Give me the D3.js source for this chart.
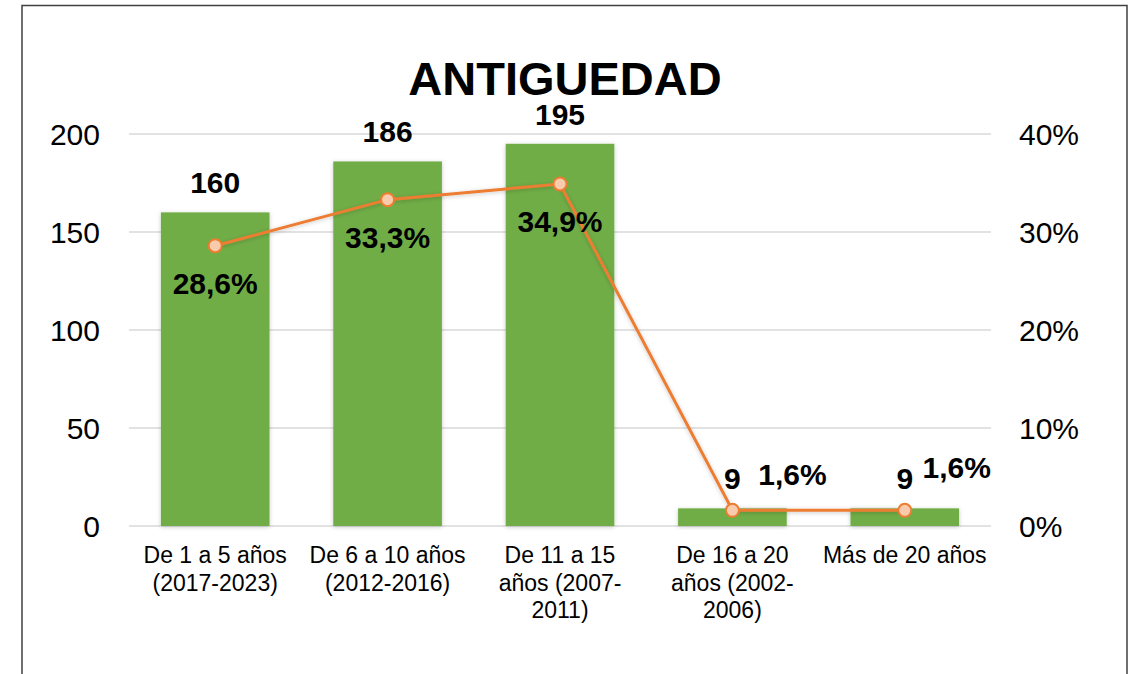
<!DOCTYPE html>
<html>
<head>
<meta charset="utf-8">
<script src="https://cdn.jsdelivr.net/npm/d3@7"></script>
<style>
  html, body { margin: 0; padding: 0; background: #fff; }
  svg { display: block; font-family: "Liberation Sans", Arial, sans-serif; }
</style>
</head>
<body>
<svg id="chart" width="1134" height="674"></svg>
<script>
// ---- data ----
const categories = ["De 1 a 5 años (2017-2023)", "De 6 a 10 años (2012-2016)", "De 11 a 15 años (2007-2011)", "De 16 a 20 años (2002-2006)", "Más de 20 años"];
const categoryLines = [
  ["De 1 a 5 años", "(2017-2023)"],
  ["De 6 a 10 años", "(2012-2016)"],
  ["De 11 a 15", "años (2007-", "2011)"],
  ["De 16 a 20", "años (2002-", "2006)"],
  ["Más de 20 años"]
];
const counts = [160, 186, 195, 9, 9];
const percents = [0.286, 0.333, 0.349, 0.016, 0.016];
const percentLabels = ["28,6%", "33,3%", "34,9%", "1,6%", "1,6%"];
const leftTicks = [0, 50, 100, 150, 200];
const rightTicks = [0, 0.1, 0.2, 0.3, 0.4];
const labelPlacement = ["below", "below", "below", "right", "aboveRight"];
const title = "ANTIGUEDAD";

// ---- layout ----
const svg = d3.select("#chart");
const plot = { left: 129, right: 991, top: 134, bottom: 526 };

const x = d3.scaleBand().domain(categories).range([plot.left, plot.right]).paddingInner(0.37).paddingOuter(0.185);
const yL = d3.scaleLinear().domain([0, 200]).range([plot.bottom, plot.top]);
const yR = d3.scaleLinear().domain([0, 0.4]).range([plot.bottom, plot.top]);

const defs = svg.append("defs");
const f = defs.append("filter").attr("id", "shadow").attr("x", "-20%").attr("y", "-20%").attr("width", "140%").attr("height", "140%");
f.append("feDropShadow").attr("dx", 0).attr("dy", 1).attr("stdDeviation", 2).attr("flood-color", "#000").attr("flood-opacity", 0.22);

// border
svg.append("rect").attr("x", 22).attr("y", 5.5).attr("width", 1105).attr("height", 700)
  .attr("fill", "none").attr("stroke", "#404040").attr("stroke-width", 1.5);

// title
svg.append("text").attr("x", 565).attr("y", 95).attr("text-anchor", "middle")
  .attr("font-size", 47).attr("font-weight", "bold").attr("fill", "#000").text(title);

// gridlines
svg.append("g").selectAll("line").data(leftTicks).join("line")
  .attr("x1", plot.left).attr("x2", plot.right)
  .attr("y1", d => yL(d)).attr("y2", d => yL(d))
  .attr("stroke", "#d9d9d9").attr("stroke-width", 1.5);

// left axis
const leftAxis = d3.axisLeft(yL).tickValues(leftTicks).tickSize(0).tickPadding(0).tickFormat(d3.format("d"));
const gl = svg.append("g").attr("transform", "translate(100,0)").call(leftAxis);
gl.select(".domain").remove();
gl.selectAll("text").attr("font-size", 30).attr("font-family", "Liberation Sans, Arial, sans-serif").attr("fill", "#000").attr("dy", "0.35em");

// right axis
const rightAxis = d3.axisRight(yR).tickValues(rightTicks).tickSize(0).tickPadding(0).tickFormat(d => Math.round(d * 100) + "%");
const gr = svg.append("g").attr("transform", "translate(1019,0)").call(rightAxis);
gr.select(".domain").remove();
gr.selectAll("text").attr("font-size", 30).attr("font-family", "Liberation Sans, Arial, sans-serif").attr("fill", "#000").attr("dy", "0.35em");

// bars
svg.append("g").selectAll("rect").data(categories).join("rect")
  .attr("x", d => x(d)).attr("width", x.bandwidth())
  .attr("y", (d, i) => yL(counts[i])).attr("height", (d, i) => plot.bottom - yL(counts[i]))
  .attr("fill", "#70AD47").attr("filter", "url(#shadow)");

// category labels
const cg = svg.append("g");
categories.forEach((c, i) => {
  const t = cg.append("text").attr("x", x(c) + x.bandwidth() / 2).attr("y", 563)
    .attr("text-anchor", "middle").attr("font-size", 23).attr("fill", "#000");
  categoryLines[i].forEach((ln, j) => {
    t.append("tspan").attr("x", x(c) + x.bandwidth() / 2).attr("y", 563 + j * 27.5).text(ln);
  });
});

// line
const cx = (d, i) => x(categories[i]) + x.bandwidth() / 2;
const line = d3.line().x((d, i) => cx(d, i)).y(d => yR(d));
svg.append("path").datum(percents).attr("d", line)
  .attr("fill", "none").attr("stroke", "#ED7D31").attr("stroke-width", 3).attr("filter", "url(#shadow)");
svg.append("g").selectAll("circle").data(percents).join("circle")
  .attr("cx", (d, i) => cx(d, i)).attr("cy", d => yR(d)).attr("r", 6.5)
  .attr("fill", "#F8CBAD").attr("stroke", "#ED7D31").attr("stroke-width", 2);

// bar value labels
svg.append("g").selectAll("text").data(counts).join("text")
  .attr("x", (d, i) => cx(d, i)).attr("y", d => yL(d) - 19)
  .attr("text-anchor", "middle").attr("font-size", 30).attr("font-weight", "bold").attr("fill", "#000")
  .text(d => d);

// percent labels
const offs = {
  below: { dx: 0, dy: 48 },
  right: { dx: 60, dy: -25 },
  aboveRight: { dx: 52, dy: -32 }
};
svg.append("g").selectAll("text").data(percents).join("text")
  .attr("x", (d, i) => cx(d, i) + offs[labelPlacement[i]].dx)
  .attr("y", (d, i) => yR(d) + offs[labelPlacement[i]].dy)
  .attr("text-anchor", "middle").attr("font-size", 30).attr("font-weight", "bold").attr("fill", "#000")
  .text((d, i) => percentLabels[i]);
</script>
</body>
</html>
